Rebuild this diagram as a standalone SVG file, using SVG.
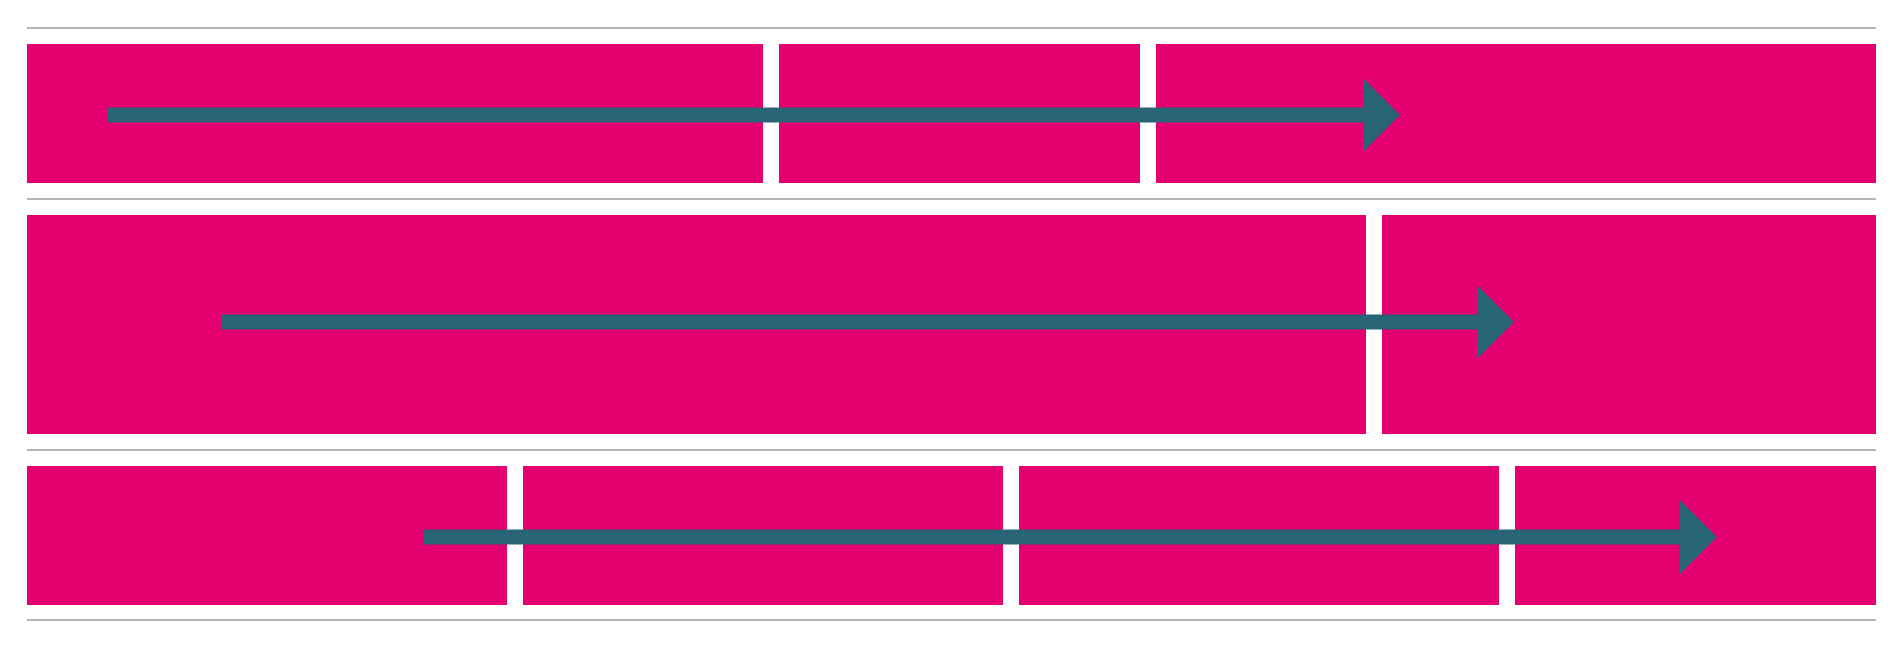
<svg xmlns="http://www.w3.org/2000/svg" width="1904" height="648" viewBox="0 0 1904 648">
<style>
.sep{stroke:#9a9a9a;stroke-width:1.6;fill:none}
.blk{fill:#E5006F}
.arr{stroke:#286576;stroke-width:15;fill:none;marker-end:url(#head)}
</style>
<defs>
<marker id="head" viewBox="0 0 37 74" refX="0" refY="37" markerWidth="37" markerHeight="74" markerUnits="userSpaceOnUse" orient="auto">
<path d="M0,0 L37,37 L0,74 Z" fill="#286576"/>
</marker>
</defs>
<rect width="1904" height="648" fill="#ffffff"/>
<g id="separators">
<line class="sep" x1="27" y1="28" x2="1876" y2="28"/>
<line class="sep" x1="27" y1="199" x2="1876" y2="199"/>
<line class="sep" x1="27" y1="450" x2="1876" y2="450"/>
<line class="sep" x1="27" y1="620" x2="1876" y2="620"/>
</g>
<g id="row1">
<rect id="r1a" class="blk" x="27" y="44" width="736" height="139"/>
<rect id="r1b" class="blk" x="779" y="44" width="361" height="139"/>
<rect id="r1c" class="blk" x="1156" y="44" width="720" height="139"/>
</g>
<g id="row2">
<rect id="r2a" class="blk" x="27" y="215" width="1339" height="219"/>
<rect id="r2b" class="blk" x="1382" y="215" width="494" height="219"/>
</g>
<g id="row3">
<rect id="r3a" class="blk" x="27" y="466" width="480" height="139"/>
<rect id="r3b" class="blk" x="523" y="466" width="480" height="139"/>
<rect id="r3c" class="blk" x="1019" y="466" width="480" height="139"/>
<rect id="r3d" class="blk" x="1515" y="466" width="361" height="139"/>
</g>
<g id="connectors">
<line class="arr" x1="107" y1="115" x2="1363" y2="115"/>
<line class="arr" x1="221" y1="322" x2="1477" y2="322"/>
<line class="arr" x1="424" y1="537" x2="1680" y2="537"/>
</g>
</svg>
